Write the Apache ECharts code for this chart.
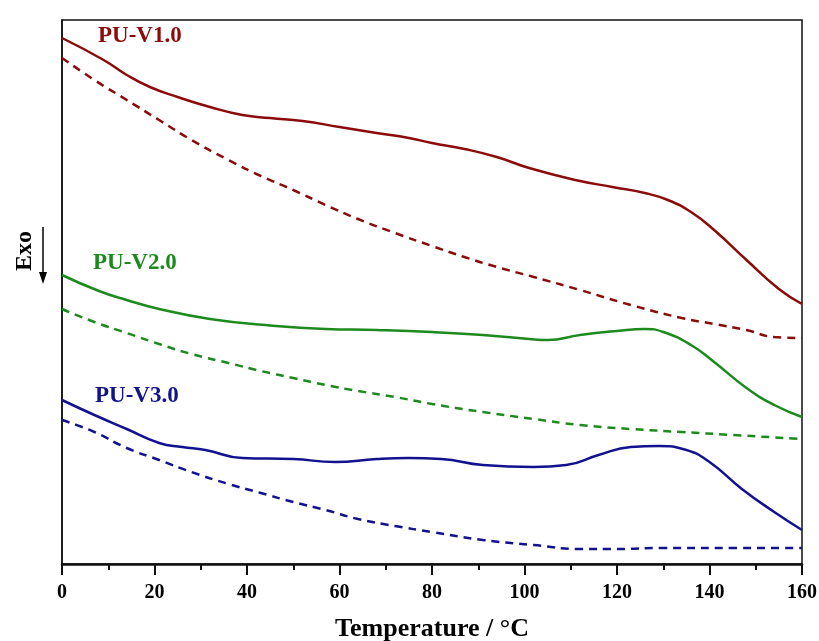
<!DOCTYPE html>
<html>
<head>
<meta charset="utf-8">
<script src="https://cdn.jsdelivr.net/npm/echarts@6/dist/echarts.min.js"></script>
<style>
  html, body { margin: 0; padding: 0; background: #fff; }
  #chart { width: 819px; height: 641px; }
</style>
</head>
<body>
<div id="chart"></div>
<script>
// DSC curves, [temperature °C, heat flow (a.u.)]
var v1Heat = [[0,526],[9,504],[14,489],[19,477],[25,467],[32,457],[39,449],[45,446],[52,443],[60,437],[68,431],[75,426],[80,421],[87,415],[94,407],[101,396],[111,384],[119,377],[126,371],[131,364],[136,352],[141,334],[148,304],[155,275],[160,260]];
var v1Cool = [[0,506],[7,484],[14,464],[21,444],[28,424],[36,404],[43,388],[50,374],[57,359],[64,345],[72,331],[80,318],[87,307],[94,297],[102,287],[112,274],[123,259],[134,246],[141,240],[148,234],[154,227],[160,226]];
var v2Heat = [[0,289],[8,273],[14,264],[21,255],[32,245],[44,239],[57,235],[68,234],[80,232],[91,229],[101,225],[105,224],[112,229],[120,233],[126,235],[130,232],[136,219],[141,202],[148,176],[154,159],[160,147]];
var v2Cool = [[0,255],[7,242],[14,231],[21,220],[28,210],[36,201],[43,193],[50,186],[57,179],[64,173],[72,167],[80,160],[91,152],[102,145],[112,139],[123,135],[134,132],[145,129],[160,125]];
var v3Heat = [[0,164],[7,149],[14,135],[21,121],[26,117],[31,114],[39,106],[50,105],[59,102],[68,105],[75,106],[82,105],[91,99],[102,97],[109,99],[116,109],[123,117],[129,118],[135,114],[140,102],[147,75],[154,52],[160,34]];
var v3Cool = [[0,144],[7,132],[14,116],[21,104],[28,92],[36,80],[43,71],[50,62],[57,54],[64,45],[72,38],[80,32],[91,24],[102,19],[112,15],[120,15],[130,16],[145,16],[160,16]];

var sampleNames = ['PU-V1.0', 'PU-V2.0', 'PU-V3.0'];
var colors = ['#8b0a0a', '#1c8a1c', '#12128f'];

var serif = '"Liberation Serif", "Times New Roman", serif';

var chart = echarts.init(document.getElementById('chart'));

function curve(data, color, dashed) {
    return {
        type: 'line',
        data: data,
        smooth: true,
        showSymbol: false,
        silent: true,
        lineStyle: { color: color, width: 2.5, type: dashed ? [8, 6] : 'solid' }
    };
}

var option = {
    animation: false,
    backgroundColor: '#fff',
    grid: {
        left: 62, right: 17, top: 20, bottom: 77,
        containLabel: false,
        outerBoundsMode: 'none',
        show: true, borderColor: '#111', borderWidth: 1.5
    },
    xAxis: {
        type: 'value',
        min: 0, max: 160, interval: 20,
        name: 'Temperature / \u00b0C',
        nameLocation: 'middle',
        nameGap: 52,
        nameTextStyle: { fontFamily: serif, fontWeight: 'bold', fontSize: 26, color: '#000' },
        axisLine: { lineStyle: { color: '#111', width: 2.5 } },
        axisTick: { inside: false, length: 11, lineStyle: { color: '#111', width: 2 } },
        minorTick: { show: true, splitNumber: 2, length: 6, lineStyle: { color: '#111', width: 2 } },
        axisLabel: { fontFamily: serif, fontWeight: 'bold', fontSize: 20, color: '#000', margin: 19 },
        splitLine: { show: false }
    },
    yAxis: {
        type: 'value',
        min: 0, max: 544,
        axisLine: { show: true, lineStyle: { color: '#111', width: 1.5 } },
        axisTick: { show: false },
        axisLabel: { show: false },
        splitLine: { show: false }
    },
    series: [
        curve(v1Heat, colors[0], false),
        curve(v1Cool, colors[0], true),
        curve(v2Heat, colors[1], false),
        curve(v2Cool, colors[1], true),
        curve(v3Heat, colors[2], false),
        curve(v3Cool, colors[2], true)
    ],
    graphic: [
        { type: 'text', left: 98, top: 25, style: { text: sampleNames[0], fill: colors[0], font: 'bold 23px ' + serif } },
        { type: 'text', left: 93, top: 252, style: { text: sampleNames[1], fill: colors[1], font: 'bold 23px ' + serif } },
        { type: 'text', left: 95, top: 385, style: { text: sampleNames[2], fill: colors[2], font: 'bold 23px ' + serif } },
        {
            type: 'text', x: 25, y: 251, rotation: Math.PI / 2,
            style: { text: 'Exo', fill: '#000', font: 'bold 24px ' + serif, align: 'center', verticalAlign: 'middle' }
        },
        { type: 'line', shape: { x1: 43, y1: 227, x2: 43, y2: 274 }, style: { stroke: '#000', lineWidth: 1.5 } },
        { type: 'polygon', shape: { points: [[39, 272], [47, 272], [43, 284]] }, style: { fill: '#000' } }
    ]
};

chart.setOption(option);
</script>
</body>
</html>
